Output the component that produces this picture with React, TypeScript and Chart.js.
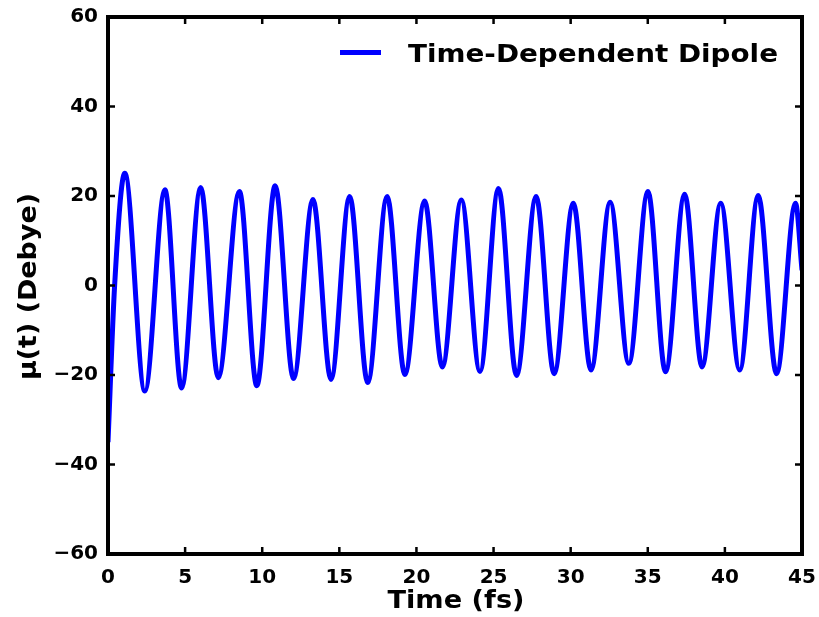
import React, { useEffect, useRef } from "react";
import { Chart, registerables } from "chart.js";

Chart.register(...registerables);

// Time (fs) of the read-off extremes / anchor points
const timeValues = [
  0, 0.43, 1.09, 2.39, 3.69, 4.77, 6.01, 7.15, 8.52, 9.65, 10.84, 12.03, 13.29,
  14.46, 15.67, 16.84, 18.1, 19.25, 20.53, 21.68, 22.91, 24.12, 25.32, 26.49,
  27.76, 28.93, 30.17, 31.32, 32.56, 33.77, 35.01, 36.15, 37.39, 38.52, 39.73,
  40.96, 42.16, 43.35, 44.58, 45,
];
// μ(t) (Debye)
const dipoleValues = [
  -35, 0, 25.1, -23.6, 21.4, -22.9, 21.9, -20.6, 21.0, -22.4, 22.3, -20.8, 19.2,
  -21.0, 19.9, -21.7, 19.9, -19.9, 18.9, -18.2, 19.1, -19.2, 21.7, -20.1, 19.9,
  -19.7, 18.4, -18.9, 18.6, -17.4, 21.0, -19.3, 20.4, -18.2, 18.4, -18.9, 20.1,
  -19.7, 18.4, 3.4,
];

const seriesLabel = "Time-Dependent Dipole";
const xTitle = "Time (fs)";
const yTitle = "\u03bc(t) (Debye)";
const xRange = [0, 45];
const yRange = [-60, 60];
const xStep = 5;
const yStep = 20;

const FONT = "'DejaVu Sans', sans-serif";

function stretchedText(
  ctx: CanvasRenderingContext2D,
  text: string,
  cx: number,
  cy: number,
  targetLen: number,
  rotate: boolean
) {
  ctx.save();
  ctx.translate(cx, cy);
  if (rotate) ctx.rotate(-Math.PI / 2);
  const w = ctx.measureText(text).width;
  ctx.scale(targetLen / w, 1);
  ctx.textAlign = "center";
  ctx.fillText(text, 0, 0);
  ctx.restore();
}

const framePlugin = {
  id: "framePlugin",
  afterDatasetsDraw(chart: any) {
    const { ctx, chartArea, scales } = chart;
    const { left, right, top, bottom } = chartArea;
    const xs = scales.x;
    const ys = scales.y;
    ctx.save();
    ctx.strokeStyle = "#000";
    ctx.lineWidth = 2.5;
    ctx.lineCap = "butt";
    const tl = 7;
    ctx.beginPath();
    for (const t of xs.ticks) {
      const px = xs.getPixelForValue(t.value);
      ctx.moveTo(px, bottom);
      ctx.lineTo(px, bottom - tl);
      ctx.moveTo(px, top);
      ctx.lineTo(px, top + tl);
    }
    for (const t of ys.ticks) {
      const py = ys.getPixelForValue(t.value);
      ctx.moveTo(left, py);
      ctx.lineTo(left + tl, py);
      ctx.moveTo(right, py);
      ctx.lineTo(right - tl, py);
    }
    ctx.stroke();
    ctx.lineWidth = 4;
    ctx.strokeRect(left, top, right - left, bottom - top);

    // legend
    const ly = top + 35.5;
    ctx.strokeStyle = "#0000ff";
    ctx.lineWidth = 5;
    ctx.beginPath();
    ctx.moveTo(right - 462, ly);
    ctx.lineTo(right - 421, ly);
    ctx.stroke();
    ctx.fillStyle = "#000";
    ctx.textBaseline = "alphabetic";
    ctx.font = "bold 25px " + FONT;
    stretchedText(ctx, seriesLabel, right - 209, top + 45, 370, false);

    // axis titles
    ctx.font = "bold 24px " + FONT;
    stretchedText(ctx, xTitle, (left + right) / 2 + 1, bottom + 54, 137, false);
    stretchedText(ctx, yTitle, left - 72, (top + bottom) / 2 + 1, 187, true);
    ctx.restore();
  },
};

export default function App() {
  const ref = useRef<HTMLCanvasElement | null>(null);

  useEffect(() => {
    if (!ref.current) return;
    const points = timeValues.map((t, i) => ({ x: t, y: dipoleValues[i] }));
    const chart = new Chart(ref.current, {
      type: "line",
      data: {
        datasets: [
          {
            label: seriesLabel,
            data: points,
            borderColor: "#0000ff",
            backgroundColor: "#0000ff",
            borderWidth: 5,
            pointRadius: 0,
            cubicInterpolationMode: "monotone",
            fill: false,
          },
        ],
      },
      options: {
        animation: false,
        responsive: false,
        events: [],
        layout: { padding: { top: 17, right: 17, left: 0, bottom: 0 } },
        plugins: {
          legend: { display: false },
          tooltip: { enabled: false },
        },
        scales: {
          x: {
            type: "linear",
            min: xRange[0],
            max: xRange[1],
            border: { display: false },
            grid: { display: false, drawTicks: false },
            ticks: {
              stepSize: xStep,
              padding: 12,
              color: "#000",
              font: { family: FONT, size: 20, weight: "bold" },
              maxRotation: 0,
              callback: (v: any) => String(v).replace("-", "\u2212"),
            },
            title: { display: false, text: xTitle },
            afterFit: (s: any) => {
              s.height = 63;
              s.paddingLeft = 0;
              s.paddingRight = 0;
            },
          },
          y: {
            type: "linear",
            min: yRange[0],
            max: yRange[1],
            border: { display: false },
            grid: { display: false, drawTicks: false },
            ticks: {
              stepSize: yStep,
              padding: 10,
              color: "#000",
              font: { family: FONT, size: 20, weight: "bold" },
              callback: (v: any) => String(v).replace("-", "\u2212"),
            },
            title: { display: false, text: yTitle },
            afterFit: (s: any) => {
              s.width = 108;
              s.paddingTop = 0;
              s.paddingBottom = 0;
            },
          },
        },
      },
      plugins: [framePlugin],
    });
    return () => chart.destroy();
  }, []);

  return (
    <div style={{ position: "absolute", left: 0, top: 0, width: 819, height: 617, background: "#fff" }}>
      <canvas ref={ref} width={819} height={617} />
    </div>
  );
}
